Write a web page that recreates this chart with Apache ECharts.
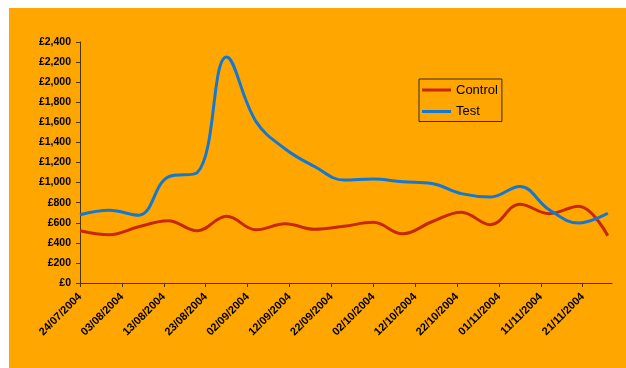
<!DOCTYPE html>
<html>
<head>
<meta charset="utf-8">
<script src="https://cdn.jsdelivr.net/npm/echarts@6/dist/echarts.min.js"></script>
<style>
html,body{margin:0;padding:0;background:#ffffff;}
#chart{position:absolute;left:9px;top:8px;width:617px;height:360px;background:#FFA600;}
</style>
</head>
<body>
<div id="chart"></div>
<script>
// Weekly data points
var pointDates = ['24/07/2004','31/07/2004','07/08/2004','14/08/2004','21/08/2004','28/08/2004','04/09/2004','11/09/2004','18/09/2004','25/09/2004','02/10/2004','09/10/2004','16/10/2004','23/10/2004','30/10/2004','06/11/2004','13/11/2004','20/11/2004','27/11/2004'];
var controlValues = [520, 480, 560, 620, 520, 665, 530, 590, 535, 565, 604, 490, 610, 705, 581, 785, 690, 765, 470];
var testValues = [680, 725, 675, 1055, 1100, 2250, 1610, 1335, 1160, 1025, 1036, 1008, 990, 890, 857, 960, 730, 598, 695];
var tickLabels = ['24/07/2004','03/08/2004','13/08/2004','23/08/2004','02/09/2004','12/09/2004','22/09/2004','02/10/2004','12/10/2004','22/10/2004','01/11/2004','11/11/2004','21/11/2004'];

var startDate = '24/07/2004';
function toUTC(s){var p=s.split('/');return Date.UTC(+p[2],+p[1]-1,+p[0]);}
var DAY=86400000;
function dayOffset(s){return Math.round((toUTC(s)-toUTC(startDate))/DAY);}
function fmtDay(d){var t=new Date(toUTC(startDate)+d*DAY);function z(n){return (n<10?'0':'')+n;}return z(t.getUTCDate())+'/'+z(t.getUTCMonth()+1)+'/'+t.getUTCFullYear();}
function money(v){return '\u00a3'+String(v).replace(/\B(?=(\d{3})+(?!\d))/g,',');}

var tickDays = tickLabels.map(dayOffset);
var controlData = pointDates.map(function(d,i){return [dayOffset(d), controlValues[i]];});
var testData = pointDates.map(function(d,i){return [dayOffset(d), testValues[i]];});

var chart = echarts.init(document.getElementById('chart'), null, {renderer:'canvas'});
var axisColor = '#4a3300';
chart.setOption({
  animation:false,
  backgroundColor:'#FFA600',
  grid:{left:71, right:14, top:34, bottom:85},
  legend:{
    orient:'vertical', left:410, top:71,
    padding:[3,4,2,3], itemGap:5.5,
    borderColor:'#3a2a00', borderWidth:1,
    itemWidth:29, itemHeight:3, icon:'rect',
    textStyle:{fontFamily:'Liberation Sans, Arial, sans-serif', fontSize:13, color:'#000', lineHeight:16},
    data:['Control','Test']
  },
  xAxis:{
    type:'value', min:0, max:127, interval:10,
    splitLine:{show:false},
    axisLine:{lineStyle:{color:axisColor, width:1}},
    axisTick:{show:true, length:4, lineStyle:{color:axisColor}, customValues:tickDays},
    axisLabel:{rotate:45, margin:12, customValues:tickDays,
      formatter:function(v){return fmtDay(v);},
      fontFamily:'Liberation Sans, Arial, sans-serif', fontSize:11, fontWeight:'bold', color:'#000'}
  },
  yAxis:{
    type:'value', min:0, max:2400, interval:200,
    splitLine:{show:false},
    axisLine:{show:true, lineStyle:{color:axisColor, width:1}},
    axisTick:{show:true, length:4, lineStyle:{color:axisColor}},
    axisLabel:{margin:9, formatter:function(v){return money(v);},
      fontFamily:'Liberation Sans, Arial, sans-serif', fontSize:10.5, fontWeight:'bold', color:'#000'}
  },
  series:[
    {name:'Control', type:'line', data:controlData, smooth:0.4, showSymbol:false, symbol:'none',
      lineStyle:{color:'#C82800', width:3}, itemStyle:{color:'#C82800'}},
    {name:'Test', type:'line', data:testData, smooth:0.4, showSymbol:false, symbol:'none',
      lineStyle:{color:'#1478D2', width:3}, itemStyle:{color:'#1478D2'}}
  ]
});
</script>
</body>
</html>
